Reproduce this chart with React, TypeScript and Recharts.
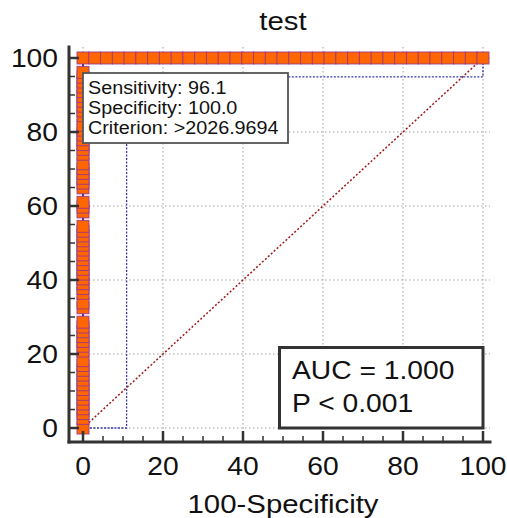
import React from "react";
import { LineChart, Line, XAxis, YAxis, CartesianGrid } from "recharts";

// ---- data ----
const axisTicks = [0, 5, 10, 15, 20, 25, 30, 35, 40, 45, 50, 55, 60, 65, 70, 75, 80, 85, 90, 95, 100];
const gridTicks = [0, 20, 40, 60, 80, 100];

// sensitivity values of ROC points at 100-Specificity = 0
const leftColumnSens = [
  0, 2.6, 3.9, 5.2, 6.5, 7.8, 9.1, 10.4, 11.7, 13.0, 14.3, 15.6, 16.9, 18.2, 20.8, 22.1, 23.4,
  24.7, 26.0, 27.3, 28.6, 32.5, 33.8, 36.4, 37.7, 39.0, 40.3, 41.6, 42.9, 44.2, 45.5, 46.8,
  48.1, 49.4, 50.6, 51.9, 53.2, 54.5, 58.4, 59.7, 61.0, 64.9, 66.2, 67.5, 68.8, 70.1, 71.4,
  74.0, 75.3, 76.6, 77.9, 79.2, 80.5, 81.8, 84.4, 85.7, 87.0, 88.3, 89.6, 90.9, 92.2, 93.5,
  94.8, 96.1,
];
// 100-Specificity values of ROC points at sensitivity = 100
const topRowFpr = [
  0, 2.94, 5.88, 8.82, 11.76, 14.71, 17.65, 20.59, 23.53, 26.47, 29.41, 32.35, 35.29, 38.24,
  41.18, 44.12, 47.06, 50, 52.94, 55.88, 58.82, 61.76, 64.71, 67.65, 70.59, 73.53, 76.47,
  79.41, 82.35, 85.29, 88.24, 91.18, 94.12, 97.06, 100,
];
const topRowSens = 100;

// lower 95% confidence bound
const ciLowerX = [0, 10.9, 10.9, 100, 100];
const ciLowerY = [0, 0, 94.9, 94.9, 100];

// reference diagonal
const diagX = [0, 100];
const diagY = [0, 100];

const title = "test";
const xTitle = "100-Specificity";
const infoLines = ["Sensitivity: 96.1", "Specificity: 100.0", "Criterion: >2026.9694"];
const aucLines = ["AUC = 1.000", "P < 0.001"];

// ---- derived tables ----
const rocData = [
  ...leftColumnSens.map((y) => ({ x: 0, y })),
  ...topRowFpr.map((x) => ({ x, y: topRowSens })),
];
const ciData = ciLowerX.map((x, i) => ({ x, y: ciLowerY[i] }));
const diagData = diagX.map((x, i) => ({ x, y: diagY[i] }));

const FONT = "'Liberation Sans', Arial, Helvetica, sans-serif";

function SText(props: { x: number; y: number; size: number; anchor?: string; sx?: number; children: React.ReactNode }) {
  const sx = props.sx ?? 1.13;
  return (
    <text
      transform={`translate(${props.x} ${props.y}) scale(${sx} 1)`}
      textAnchor={props.anchor || "start"}
      fontSize={props.size}
      fontFamily={FONT}
      fill="#111"
    >
      {props.children}
    </text>
  );
}

const renderXTick = (p: any) => {
  const { x, y, payload } = p;
  const v = payload.value;
  const major = v % 20 === 0;
  return (
    <g key={`xt-${v}`}>
      <line x1={x} y1={y} x2={x} y2={y - (major ? 11 : 6)} stroke="#333" strokeWidth={major ? 2.5 : 1.5} />
      {major && <SText x={x} y={y + 33} size={25} anchor="middle">{String(v)}</SText>}
    </g>
  );
};

const renderYTick = (p: any) => {
  const { x, y, payload } = p;
  const v = payload.value;
  const major = v % 20 === 0;
  return (
    <g key={`yt-${v}`}>
      <line x1={x} y1={y} x2={x + (major ? 10 : 6)} y2={y} stroke="#333" strokeWidth={major ? 2.5 : 1.5} />
      {major && <SText x={x - 11} y={y + 8.8} size={25} anchor="end">{String(v)}</SText>}
    </g>
  );
};

const renderSquare = (p: any) => {
  const { cx, cy, index } = p;
  if (cx == null || cy == null) return <g key={`sq-${index}`} />;
  return (
    <rect
      key={`sq-${index}`}
      x={cx - 6}
      y={cy - 6}
      width={12}
      height={12}
      fill="#FF6600"
      stroke="#98358a"
      strokeOpacity={0.85}
      strokeWidth={1}
    />
  );
};

export default function App() {
  return (
    <div style={{ position: "absolute", left: 0, top: 0, width: 507, height: 518, background: "#fff" }}>
      <LineChart
        width={507}
        height={518}
        margin={{ top: 47, right: 17, bottom: 0, left: 0 }}
      >
        <CartesianGrid
          stroke="#a0a0a0"
          strokeDasharray="1.5 2.5"
          horizontalValues={gridTicks}
          verticalValues={gridTicks}
        />
        <XAxis
          type="number"
          dataKey="x"
          domain={[-3.5, 101.75]}
          ticks={axisTicks}
          interval={0}
          allowDataOverflow
          height={76}
          tickSize={0}
          tickMargin={0}
          tickLine={false}
          tick={renderXTick}
          axisLine={{ stroke: "#333", strokeWidth: 3, strokeLinecap: "square" }}
        />
        <YAxis
          type="number"
          dataKey="y"
          domain={[-3.78, 102.97]}
          ticks={axisTicks}
          interval={0}
          allowDataOverflow
          width={69}
          tickSize={0}
          tickMargin={0}
          tickLine={false}
          tick={renderYTick}
          axisLine={{ stroke: "#333", strokeWidth: 3, strokeLinecap: "square" }}
        />
        <Line
          data={diagData}
          dataKey="y"
          type="linear"
          stroke="#a01818"
          strokeWidth={1.5}
          strokeDasharray="2 2"
          dot={false}
          activeDot={false}
          isAnimationActive={false}
        />
        <Line
          data={ciData}
          dataKey="y"
          type="linear"
          stroke="#3a3aa8"
          strokeWidth={1.3}
          strokeDasharray="2 1.5"
          dot={false}
          activeDot={false}
          isAnimationActive={false}
        />
        <Line
          data={rocData}
          dataKey="y"
          type="linear"
          stroke="#5a2a8a"
          strokeWidth={2}
          dot={renderSquare}
          activeDot={false}
          isAnimationActive={false}
        />
      </LineChart>
      <svg
        width={507}
        height={518}
        style={{ position: "absolute", left: 0, top: 0, pointerEvents: "none" }}
      >
        <SText x={283} y={30} size={26} anchor="middle">{title}</SText>
        <SText x={283} y={513} size={26} anchor="middle">{xTitle}</SText>
        <rect x={83} y={73} width={205} height={70} fill="#fff" stroke="#555" strokeWidth={1.8} />
        {infoLines.map((t, i) => (
          <SText key={t} x={88} y={94 + i * 20} size={17.5} sx={1.13}>{t}</SText>
        ))}
        <rect x={279.5} y={347.5} width={203.5} height={80.5} fill="#fff" stroke="#333" strokeWidth={3} />
        {aucLines.map((t, i) => (
          <SText key={t} x={292} y={379 + i * 33} size={25}>{t}</SText>
        ))}
      </svg>
    </div>
  );
}
